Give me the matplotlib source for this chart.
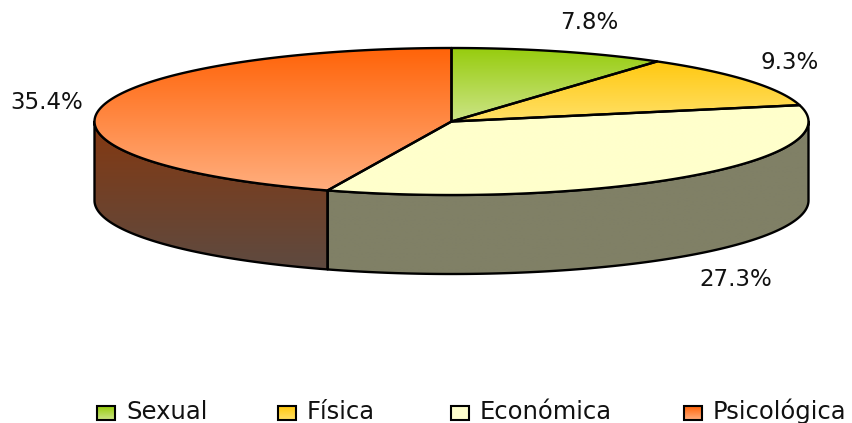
import numpy as np
import matplotlib
matplotlib.use("Agg")
import matplotlib.pyplot as plt
from matplotlib.colors import LinearSegmentedColormap
from matplotlib.patches import Polygon, Rectangle

categories = ["Sexual", "Física", "Económica", "Psicológica"]
values = [7.8, 9.3, 27.3, 35.4]
pct_labels = ["7.8%", "9.3%", "27.3%", "35.4%"]

top_colors = [("#96CC0C", "#CCE486"), ("#FFC80F", "#FFE066"), ("#FFFFCC", "#FFFFCC"), ("#FF6308", "#FFAE7E")]
side_colors = [("#4E6606", "#4E6606"), ("#806408", "#806408"), ("#808066", "#808066"), ("#843810", "#5E4A40")]
label_pos = [(589, 29), (790, 69), (736, 286), (47, 109)]
legend_x = [97, 278, 451, 684]
legend_txt_x = [126, 307, 480, 713]

CX, CY = 451.5, 121.5
A, B = 357, 73.5
DEPTH = 79
LW = 1.7

fig = plt.figure(figsize=(8.53, 4.23), dpi=100)
ax = fig.add_axes([0, 0, 1, 1])
ax.set_xlim(0, 853)
ax.set_ylim(423, 0)
ax.axis("off")


def rim(a0, a1, n=200):
    # angles are clockwise from the top, like the original pie
    t = np.linspace(a0, a1, n)
    return CX + A * np.sin(t), CY - B * np.cos(t)


def gradient_fill(xs, ys, c0, c1, zorder):
    poly = Polygon(np.column_stack([xs, ys]), closed=True, fc="none", ec="none", zorder=zorder)
    ax.add_patch(poly)
    cmap = LinearSegmentedColormap.from_list("g", [c0, c1])
    y0, y1 = min(ys), max(ys)
    im = ax.imshow(np.linspace(0, 1, 256).reshape(-1, 1), cmap=cmap, aspect="auto",
                   extent=[min(xs), max(xs), y1, y0], zorder=zorder, interpolation="bilinear")
    im.set_clip_path(poly)
    outline = Polygon(np.column_stack([xs, ys]), closed=True, fc="none", ec="black",
                      lw=LW, joinstyle="round", zorder=zorder + 0.1)
    ax.add_patch(outline)


edges = np.concatenate([[0], np.cumsum(values)]) / np.sum(values) * 2 * np.pi

# side walls first, only the part of the rim facing us
for i in range(len(values)):
    a0 = max(edges[i], np.pi / 2)
    a1 = min(edges[i + 1], 3 * np.pi / 2)
    if a1 <= a0:
        continue
    x, y = rim(a0, a1)
    xs = np.concatenate([x, x[::-1]])
    ys = np.concatenate([y, y[::-1] + DEPTH])
    gradient_fill(xs, ys, side_colors[i][0], side_colors[i][1], 2)

for i in range(len(values)):
    x, y = rim(edges[i], edges[i + 1])
    xs = np.concatenate([[CX], x])
    ys = np.concatenate([[CY], y])
    gradient_fill(xs, ys, top_colors[i][0], top_colors[i][1], 3)

for lab, (x, y) in zip(pct_labels, label_pos):
    ax.text(x, y, lab, ha="center", va="baseline", fontsize=16.5, color="#111111", zorder=5)

for i, cat in enumerate(categories):
    cmap = LinearSegmentedColormap.from_list("g", top_colors[i])
    ax.imshow(np.linspace(0, 1, 64).reshape(-1, 1), cmap=cmap, aspect="auto",
              extent=[legend_x[i], legend_x[i] + 18, 420, 406], zorder=5)
    ax.add_patch(Rectangle((legend_x[i], 406), 18, 14, fc="none", ec="black", lw=1.5, zorder=6))
    ax.text(legend_txt_x[i], 419, cat, ha="left", va="baseline", fontsize=17.5, color="#111111", zorder=5)

ax.set_xlim(0, 853)
ax.set_ylim(423, 0)
fig.savefig("out.png", dpi=100)
